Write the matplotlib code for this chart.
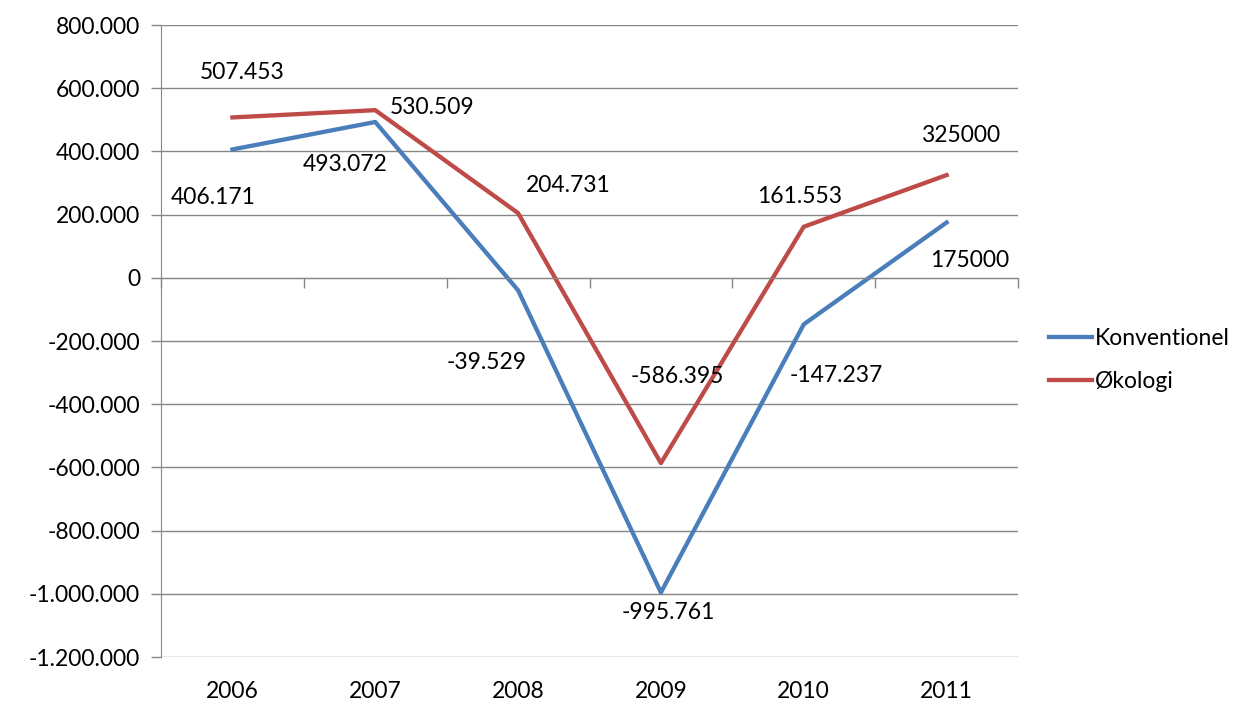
import matplotlib.pyplot as plt
import numpy as np

plt.rcParams['font.family'] = ['Lato', 'DejaVu Sans']

years = ['2006', '2007', '2008', '2009', '2010', '2011']
konv = [406171, 493072, -39529, -995761, -147237, 175000]
oko = [507453, 530509, 204731, -586395, 161553, 325000]
konv_labels = ['406.171', '493.072', '-39.529', '-995.761', '-147.237', '175000']
oko_labels = ['507.453', '530.509', '204.731', '-586.395', '161.553', '325000']
yticks = [800000, 600000, 400000, 200000, 0, -200000, -400000, -600000,
          -800000, -1000000, -1200000]

# label offsets in pixels (dx, dy) relative to the point
konv_off = [(-19, -48), (-30, -43), (-31, -72), (7, -20), (33, -51), (23, -38)]
oko_off = [(10, 45), (57, 3), (50, 28), (16, 87), (-4, 30), (14, 40)]

blue = '#4A7EBB'
red = '#BE4B48'
grid = '#868686'
fs = 16.5

def fmt(v):
    s = '{:,}'.format(abs(v)).replace(',', '.')
    return ('-' if v < 0 else '') + s

fig = plt.figure(figsize=(12.46, 7.04), dpi=100)
ax = fig.add_axes([161 / 1246, 1 - 657 / 704, (1018 - 161) / 1246, (657 - 25) / 704])

x = np.arange(len(years)) + 0.5
ax.plot(x, konv, color=blue, lw=3.1, label='Konventionel', solid_joinstyle='round')
ax.plot(x, oko, color=red, lw=3.1, label='Økologi', solid_joinstyle='round')

for xi, v, t, o in zip(x, konv, konv_labels, konv_off):
    ax.annotate(t, (xi, v), xytext=o, textcoords='offset pixels',
                ha='center', va='center', fontsize=fs)
for xi, v, t, o in zip(x, oko, oko_labels, oko_off):
    ax.annotate(t, (xi, v), xytext=o, textcoords='offset pixels',
                ha='center', va='center', fontsize=fs)

ax.set_xlim(0, 6)
ax.set_ylim(-1200000, 800000)
ax.set_yticks(yticks)
ax.set_yticklabels([fmt(v) for v in yticks], fontsize=fs)
ax.yaxis.grid(True, color=grid, lw=1)
ax.set_axisbelow(True)
ax.tick_params(axis='y', length=7, color=grid, width=1, pad=8)

for s in ['top', 'right']:
    ax.spines[s].set_visible(False)
ax.spines['left'].set_color(grid)
ax.spines['bottom'].set_color(grid)
ax.spines['bottom'].set_position(('data', 0))
ax.spines['bottom'].set_bounds(-0.06, 6)

ax.set_xticks(range(0, 7))
ax.set_xticklabels([])
ax.tick_params(axis='x', length=7, color=grid, width=1, direction='out')

for xi, y in zip(x, years):
    ax.text(xi, -0.055, y, transform=ax.get_xaxis_transform(),
            ha='center', va='center', fontsize=fs)

fig.legend(loc='center left', bbox_to_anchor=(1028 / 1246, 1 - 360 / 704),
           frameon=False, fontsize=fs, handlelength=1.9, handletextpad=0.1,
           labelspacing=1.0)

fig.savefig('out.png', dpi=100)
